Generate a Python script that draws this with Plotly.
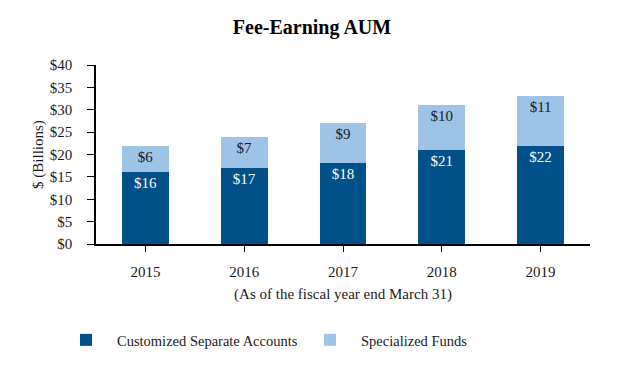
import plotly.graph_objects as go

years = ["2015", "2016", "2017", "2018", "2019"]
customized = [16, 17, 18, 21, 22]
specialized = [6, 7, 9, 10, 11]
y_ticks = [0, 5, 10, 15, 20, 25, 30, 35, 40]
y_tick_labels = ["$" + str(v) for v in y_ticks]

FONT = "Liberation Serif, Times New Roman, serif"
DARK = "#00508A"
LIGHT = "#9DC3E6"

fig = go.Figure()
fig.add_trace(go.Bar(
    x=years, y=customized, name="Customized Separate Accounts",
    marker=dict(color=DARK, line=dict(width=0)),
    text=["$" + str(v) for v in customized],
    textposition="inside", insidetextanchor="end",
    textfont=dict(color="white", size=15, family=FONT),
    width=0.475, hoverinfo="skip",
))
fig.add_trace(go.Bar(
    x=years, y=specialized, name="Specialized Funds",
    marker=dict(color=LIGHT, line=dict(width=0)),
    text=["$" + str(v) for v in specialized],
    textposition="inside", insidetextanchor="end",
    textfont=dict(color="#1a1a1a", size=15, family=FONT),
    width=0.475, hoverinfo="skip",
))

fig.update_layout(
    barmode="stack",
    width=616, height=370,
    margin=dict(l=88, r=34, t=57, b=134),
    paper_bgcolor="white", plot_bgcolor="white",
    font=dict(family=FONT, size=15, color="#1a1a1a"),
    title=dict(text="<b>Fee-Earning AUM</b>", x=0.4935, xanchor="center", xref="container",
               y=0.9486, yanchor="middle", font=dict(size=20, family=FONT, color="black")),
    showlegend=True,
    legend=dict(orientation="h", x=-0.083, xanchor="left", y=-0.536, yanchor="middle",
                font=dict(size=14.5, family=FONT), itemwidth=52, entrywidth=177,
                traceorder="normal"),
    uniformtext=dict(mode="show", minsize=10),
)
fig.update_xaxes(
    showline=True, linecolor="black", linewidth=1.5,
    ticks="outside", ticklen=6, tickcolor="black", ticklabelstandoff=7,
    tickfont=dict(size=15, family=FONT),
    title=dict(text="(As of the fiscal year end March 31)", font=dict(size=15, family=FONT), standoff=10),
    showgrid=False,
)
fig.update_yaxes(
    range=[0, 40], tickvals=y_ticks, ticktext=y_tick_labels,
    showline=True, linecolor="black", linewidth=1.5,
    ticks="outside", ticklen=7, tickcolor="black", ticklabelstandoff=12,
    tickfont=dict(size=15, family=FONT),
    title=dict(text="$ (Billions)", font=dict(size=15, family=FONT), standoff=3),
    showgrid=False, zeroline=False,
)

fig.write_html("out.html")
